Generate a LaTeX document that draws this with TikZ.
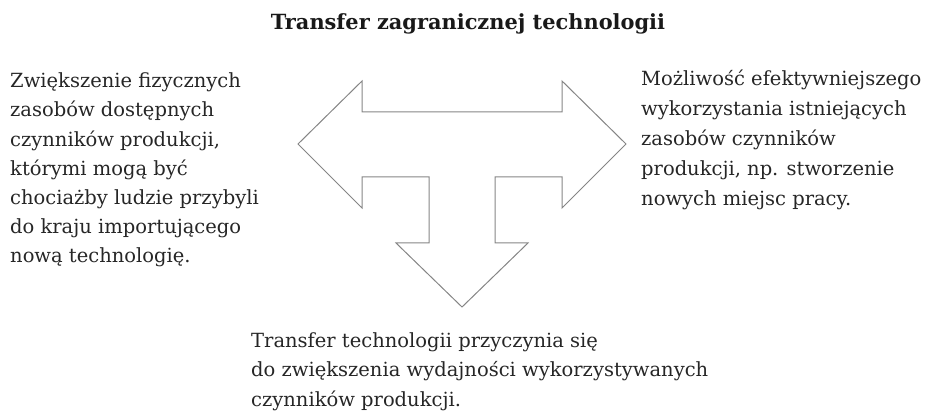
\documentclass[tikz,border=0pt]{standalone}
\usepackage{fontspec}
\setmainfont{DejaVu Serif}
\begin{document}
\begin{tikzpicture}[x=1pt,y=-1pt,
  txt/.style={anchor=base west,inner sep=0pt,align=left,text=black!85},
  arrowshape/.style={draw=black!48,line width=1pt,line join=miter}]
\useasboundingbox (0,0) rectangle (925,411);
\node[anchor=base,inner sep=0pt,text=black!90,font=\fontsize{20.9}{26}\selectfont\bfseries] (title) at (468,30) {Transfer zagranicznej technologii};
\draw[arrowshape] (298,144) -- (362,81) -- (362,112) -- (562,112) -- (562,81) -- (626,144)
  -- (562,208) -- (562,177) -- (495,177) -- (495,243) -- (528,243) -- (462,307)
  -- (396,243) -- (429,243) -- (429,177) -- (362,177) -- (362,208) -- cycle;
\node[txt,font=\fontsize{19.5}{29.2}\selectfont] (left) at (10,263) {Zwiększenie fizycznych\\zasobów dostępnych\\czynników produkcji,\\którymi mogą być\\chociażby ludzie przybyli\\do kraju importującego\\nową technologię.};
\node[txt,font=\fontsize{19.5}{30}\selectfont] (right) at (641,206) {Możliwość efektywniejszego\\wykorzystania istniejących\\zasobów czynników\\produkcji, np. stworzenie\\nowych miejsc pracy.};
\node[txt,font=\fontsize{19.5}{29.5}\selectfont] (bottom) at (251,406) {Transfer technologii przyczynia się\\do zwiększenia wydajności wykorzystywanych\\czynników produkcji.};
\end{tikzpicture}
\end{document}
